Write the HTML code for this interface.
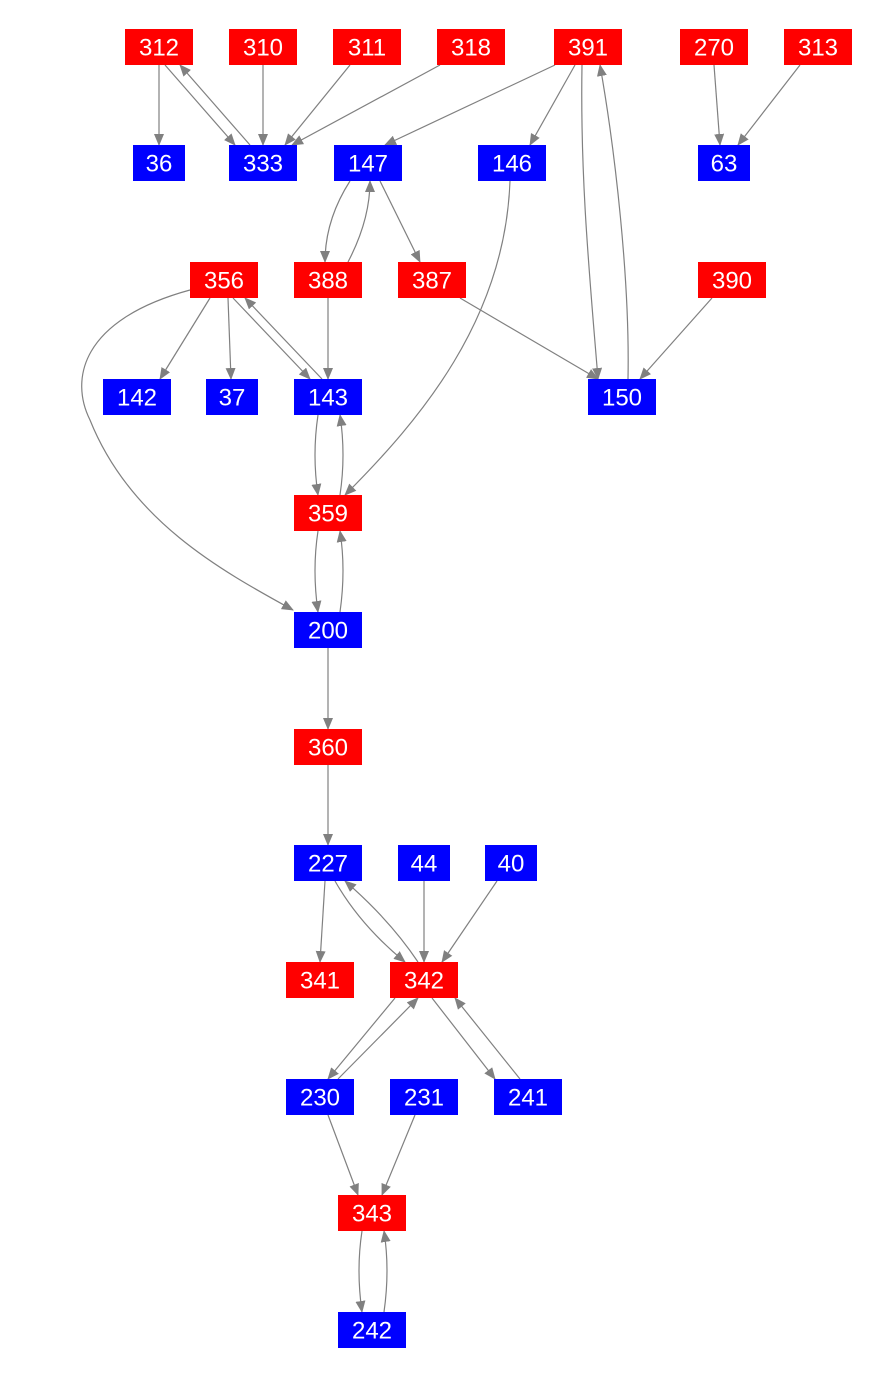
<!DOCTYPE html>
<html><head><meta charset="utf-8"><style>
html,body{margin:0;padding:0;background:#fff;}
svg{display:block;}
text{font-family:"Liberation Sans",Arial,sans-serif;font-size:24px;fill:#fff;text-anchor:middle;dominant-baseline:central;}
.e{fill:none;stroke:#808080;stroke-width:1.2;marker-end:url(#a);}
</style></head><body>
<svg width="875" height="1375" viewBox="0 0 875 1375" xmlns="http://www.w3.org/2000/svg">
<defs><marker id="a" markerWidth="12" markerHeight="10" refX="11" refY="5" orient="auto" markerUnits="userSpaceOnUse"><path d="M0,0 L12,5 L0,10 Z" fill="#808080"/></marker></defs>
<g>
<path class="e" d="M159,65 L159,145"/>
<path class="e" d="M165,65 L235,145"/>
<path class="e" d="M250,145 L180,65"/>
<path class="e" d="M263,65 L263,145"/>
<path class="e" d="M350,65 L285,145"/>
<path class="e" d="M440,65 L292,145"/>
<path class="e" d="M555,65 L385,145"/>
<path class="e" d="M575,65 L530,145"/>
<path class="e" d="M582,65 C580,180 590,280 598,379"/>
<path class="e" d="M628,379 C630,280 615,150 600,65"/>
<path class="e" d="M714,65 L720,145"/>
<path class="e" d="M800,65 L738,145"/>
<path class="e" d="M350,181 Q325,220 325,262"/>
<path class="e" d="M348,262 Q370,220 370,181"/>
<path class="e" d="M380,181 L420,262"/>
<path class="e" d="M510,181 C505,320 420,420 345,495"/>
<path class="e" d="M210,298 L160,379"/>
<path class="e" d="M228,298 L231,379"/>
<path class="e" d="M233,298 L310,379"/>
<path class="e" d="M322,379 L245,298"/>
<path class="e" d="M190,290 C80,320 70,380 90,420 C130,520 220,570 293,610"/>
<path class="e" d="M328,298 L328,379"/>
<path class="e" d="M460,298 L598,379"/>
<path class="e" d="M712,298 L640,379"/>
<path class="e" d="M318,415 Q312,455 318,495"/>
<path class="e" d="M340,495 Q346,455 340,415"/>
<path class="e" d="M318,531 Q312,570 318,612"/>
<path class="e" d="M340,612 Q346,570 340,531"/>
<path class="e" d="M328,648 L328,729"/>
<path class="e" d="M328,765 L328,845"/>
<path class="e" d="M325,881 L320,962"/>
<path class="e" d="M335,881 Q360,925 405,962"/>
<path class="e" d="M418,962 Q390,920 345,881"/>
<path class="e" d="M424,881 L424,962"/>
<path class="e" d="M497,881 L442,962"/>
<path class="e" d="M395,998 L328,1079"/>
<path class="e" d="M338,1079 L418,998"/>
<path class="e" d="M432,998 L495,1079"/>
<path class="e" d="M520,1079 L455,998"/>
<path class="e" d="M328,1115 L358,1195"/>
<path class="e" d="M415,1115 L382,1195"/>
<path class="e" d="M362,1231 Q356,1270 362,1312"/>
<path class="e" d="M384,1312 Q390,1270 384,1231"/>
</g>
<g fill="#ff0000">
<rect x="125" y="29" width="68" height="36"/><rect x="229" y="29" width="68" height="36"/><rect x="333" y="29" width="68" height="36"/><rect x="437" y="29" width="68" height="36"/><rect x="554" y="29" width="68" height="36"/><rect x="680" y="29" width="68" height="36"/><rect x="784" y="29" width="68" height="36"/>
<rect x="190" y="262" width="68" height="36"/><rect x="294" y="262" width="68" height="36"/><rect x="398" y="262" width="68" height="36"/><rect x="698" y="262" width="68" height="36"/>
<rect x="294" y="495" width="68" height="36"/><rect x="294" y="729" width="68" height="36"/>
<rect x="286" y="962" width="68" height="36"/><rect x="390" y="962" width="68" height="36"/>
<rect x="338" y="1195" width="68" height="36"/>
</g>
<g fill="#0000ff">
<rect x="133" y="145" width="52" height="36"/><rect x="229" y="145" width="68" height="36"/><rect x="334" y="145" width="68" height="36"/><rect x="478" y="145" width="68" height="36"/><rect x="698" y="145" width="52" height="36"/>
<rect x="103" y="379" width="68" height="36"/><rect x="206" y="379" width="52" height="36"/><rect x="294" y="379" width="68" height="36"/><rect x="588" y="379" width="68" height="36"/>
<rect x="294" y="612" width="68" height="36"/>
<rect x="294" y="845" width="68" height="36"/><rect x="398" y="845" width="52" height="36"/><rect x="485" y="845" width="52" height="36"/>
<rect x="286" y="1079" width="68" height="36"/><rect x="390" y="1079" width="68" height="36"/><rect x="494" y="1079" width="68" height="36"/>
<rect x="338" y="1312" width="68" height="36"/>
</g>
<g>
<text x="159" y="48">312</text><text x="263" y="48">310</text><text x="367" y="48">311</text><text x="471" y="48">318</text><text x="588" y="48">391</text><text x="714" y="48">270</text><text x="818" y="48">313</text>
<text x="159" y="164">36</text><text x="263" y="164">333</text><text x="368" y="164">147</text><text x="512" y="164">146</text><text x="724" y="164">63</text>
<text x="224" y="281">356</text><text x="328" y="281">388</text><text x="432" y="281">387</text><text x="732" y="281">390</text>
<text x="137" y="398">142</text><text x="232" y="398">37</text><text x="328" y="398">143</text><text x="622" y="398">150</text>
<text x="328" y="514">359</text><text x="328" y="631">200</text><text x="328" y="748">360</text>
<text x="328" y="864">227</text><text x="424" y="864">44</text><text x="511" y="864">40</text>
<text x="320" y="981">341</text><text x="424" y="981">342</text>
<text x="320" y="1098">230</text><text x="424" y="1098">231</text><text x="528" y="1098">241</text>
<text x="372" y="1214">343</text><text x="372" y="1331">242</text>
</g>
</svg>
</body></html>
